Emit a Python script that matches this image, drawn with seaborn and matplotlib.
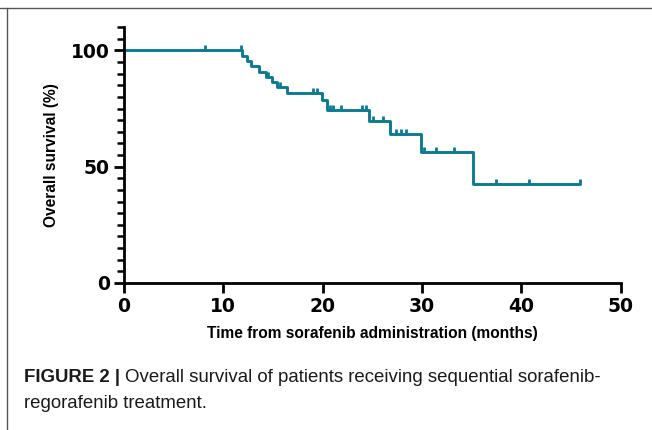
import numpy as np
import pandas as pd
import matplotlib
matplotlib.use("Agg")
import matplotlib.pyplot as plt
import seaborn as sns
from matplotlib.ticker import MultipleLocator
from matplotlib.lines import Line2D

# Kaplan-Meier steps (months, % surviving after the step)
event_months = [0, 11.9, 12.4, 12.8, 13.6, 14.3, 14.9, 15.4, 16.4,
                19.9, 20.4, 24.7, 26.8, 29.9, 35.1, 45.9]
survival_pct = [100, 97.7, 95.5, 93.2, 90.9, 88.6, 86.4, 84.1, 81.8,
                78.6, 74.3, 69.8, 63.9, 56.2, 42.5, 42.5]

# censored patients (tick marks)
censor_months = [8.2, 11.8, 14.5, 15.7, 19.0, 19.4, 20.7, 21.0, 21.9, 24.0, 24.4,
                 25.1, 26.1, 27.4, 27.9, 28.4, 30.2, 31.4, 33.2, 37.5, 40.8, 45.9]

x_ticks = [0, 10, 20, 30, 40, 50]
y_ticks = [0, 50, 100]

curve_color = "#0b7b94"

km = pd.DataFrame({"month": event_months, "surv": survival_pct})
idx = np.searchsorted(event_months, censor_months, side="right") - 1
cens = pd.DataFrame({"month": censor_months,
                     "surv": [survival_pct[i] for i in idx]})

sns.set_style("ticks")
plt.rcParams.update({"text.color": "black", "axes.labelcolor": "black",
                     "xtick.color": "black", "ytick.color": "black"})
fig = plt.figure(figsize=(6.52, 4.30), dpi=100)
ax = fig.add_axes([0.190, 0.342, 0.762, 0.5947])

sns.lineplot(data=km, x="month", y="surv", drawstyle="steps-post",
             estimator=None, color=curve_color, linewidth=2.1, ax=ax)
sns.scatterplot(data=cens, x="month", y="surv", marker=2, s=14,
                color=curve_color, linewidth=2.0, ax=ax, zorder=3)

ax.set_xlim(0, 50)
ax.set_ylim(0, 110)
ax.set_xticks(x_ticks)
ax.set_yticks(y_ticks)
ax.yaxis.set_minor_locator(MultipleLocator(5))
sns.despine(ax=ax)
for s in ["left", "bottom"]:
    ax.spines[s].set_linewidth(2.0)
    ax.spines[s].set_color("black")
ax.tick_params(axis="both", which="major", length=7, width=2.0,
               color="black", labelcolor="black", pad=3)
ax.tick_params(axis="y", which="minor", length=5, width=1.8, color="black")
for lab in ax.get_xticklabels() + ax.get_yticklabels():
    lab.set_fontfamily("DejaVu Sans")
    lab.set_fontweight("bold")
    lab.set_fontsize(13.5)

ax.set_xlabel("Time from sorafenib administration (months)",
              fontfamily="Liberation Sans", fontweight="bold", fontsize=11.2,
              labelpad=7, color="black")
ax.set_ylabel("Overall survival (%)", fontfamily="Liberation Sans",
              fontweight="bold", fontsize=11.2, labelpad=9, color="black")

# figure frame lines (top and left)
fig.add_artist(Line2D([0, 1], [1 - 8 / 430, 1 - 8 / 430],
                      transform=fig.transFigure, color="#555555", lw=1.0))
fig.add_artist(Line2D([7 / 652, 7 / 652], [0, 1 - 8 / 430],
                      transform=fig.transFigure, color="#555555", lw=1.0))

cap_y1 = 1 - 377 / 430
cap_y2 = 1 - 403 / 430
cap_font = "Liberation Sans"
t = fig.text(24 / 652, cap_y1, "FIGURE 2 | ", fontfamily=cap_font,
             fontweight="bold", fontsize=13.4, va="center", ha="left",
             color="#1a1a1a")
fig.canvas.draw()
bb = t.get_window_extent()
fig.text(bb.x1 / 652, cap_y1,
         "Overall survival of patients receiving sequential sorafenib-",
         fontfamily=cap_font, fontsize=13.4, va="center", ha="left",
         color="#1a1a1a")
fig.text(24 / 652, cap_y2, "regorafenib treatment.",
         fontfamily=cap_font, fontsize=13.4, va="center", ha="left",
         color="#1a1a1a")

fig.savefig("out.png", dpi=100)
